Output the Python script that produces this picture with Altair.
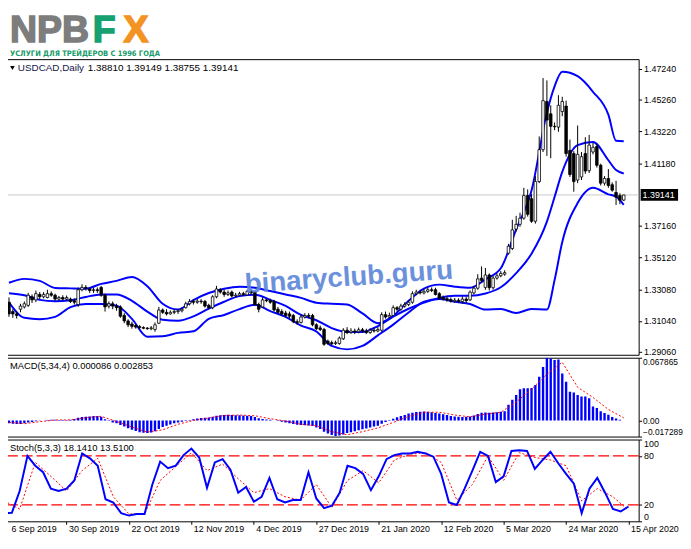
import altair as alt
import pandas as pd

# ---------------- data ----------------
date_labels = ["6 Sep 2019", "30 Sep 2019", "22 Oct 2019", "12 Nov 2019", "4 Dec 2019",
               "27 Dec 2019", "21 Jan 2020", "12 Feb 2020", "5 Mar 2020", "24 Mar 2020", "15 Apr 2020"]
date_bars = [0, 16, 32, 48, 64, 80, 96, 112, 128, 144, 160]

opens = [1.3225, 1.3165, 1.3150, 1.3180, 1.3195, 1.3205, 1.3260, 1.3240, 1.3275, 1.3260,
         1.3255, 1.3280, 1.3270, 1.3245, 1.3255, 1.3245, 1.3245, 1.3235, 1.3210, 1.3305,
         1.3320, 1.3310, 1.3300, 1.3305, 1.3320, 1.3270, 1.3200, 1.3215, 1.3200, 1.3195,
         1.3140, 1.3105, 1.3085, 1.3075, 1.3068, 1.3062, 1.3058, 1.3055, 1.3050, 1.3090,
         1.3175, 1.3160, 1.3150, 1.3160, 1.3165, 1.3170, 1.3190, 1.3215, 1.3230, 1.3225,
         1.3232, 1.3230, 1.3205, 1.3190, 1.3260, 1.3305, 1.3290, 1.3275, 1.3290, 1.3265,
         1.3270, 1.3280, 1.3272, 1.3295, 1.3290, 1.3210, 1.3195, 1.3240, 1.3235, 1.3230,
         1.3180, 1.3165, 1.3155, 1.3150, 1.3140, 1.3100, 1.3095, 1.3130, 1.3140, 1.3140,
         1.3080, 1.3060, 1.3050, 1.2975, 1.2965, 1.2960, 1.2960, 1.2990, 1.3045, 1.3030,
         1.3040, 1.3035, 1.3048, 1.3040, 1.3030, 1.3045, 1.3040, 1.3045, 1.3145, 1.3130,
         1.3140, 1.3190, 1.3180, 1.3200, 1.3210, 1.3225, 1.3280, 1.3290, 1.3285, 1.3295,
         1.3305, 1.3305, 1.3280, 1.3255, 1.3248, 1.3242, 1.3232, 1.3238, 1.3230, 1.3245,
         1.3240, 1.3285, 1.3315, 1.3380, 1.3320, 1.3400, 1.3318, 1.3380, 1.3395, 1.3405,
         1.3540, 1.3570, 1.3695, 1.3725, 1.3765, 1.3910, 1.3890, 1.3745, 1.4000, 1.4205,
         1.4515, 1.4435, 1.4355, 1.4350, 1.4450, 1.4485, 1.4200, 1.4180, 1.4010, 1.4030,
         1.4180, 1.4070, 1.4190, 1.4225, 1.4105, 1.3990, 1.4020, 1.3980, 1.3930, 1.3910,
         1.38810]
highs = [1.3256, 1.3180, 1.3165, 1.3215, 1.3230, 1.3285, 1.3275, 1.3300, 1.3290, 1.3290,
         1.3305, 1.3295, 1.3280, 1.3265, 1.3270, 1.3268, 1.3255, 1.3250, 1.3320, 1.3340,
         1.3335, 1.3320, 1.3318, 1.3320, 1.3330, 1.3280, 1.3230, 1.3230, 1.3215, 1.3205,
         1.3155, 1.3115, 1.3100, 1.3085, 1.3078, 1.3070, 1.3066, 1.3072, 1.3095, 1.3195,
         1.3185, 1.3180, 1.3172, 1.3180, 1.3182, 1.3190, 1.3228, 1.3245, 1.3245, 1.3245,
         1.3245, 1.3240, 1.3215, 1.3270, 1.3330, 1.3315, 1.3305, 1.3300, 1.3300, 1.3285,
         1.3292, 1.3292, 1.3305, 1.3305, 1.3295, 1.3222, 1.3255, 1.3250, 1.3248, 1.3240,
         1.3195, 1.3180, 1.3170, 1.3165, 1.3150, 1.3115, 1.3145, 1.3155, 1.3155, 1.3150,
         1.3090, 1.3075, 1.3060, 1.2985, 1.2978, 1.2978, 1.3005, 1.3058, 1.3065, 1.3058,
         1.3055, 1.3062, 1.3060, 1.3055, 1.3058, 1.3060, 1.3065, 1.3160, 1.3165, 1.3158,
         1.3205, 1.3200, 1.3215, 1.3225, 1.3240, 1.3295, 1.3305, 1.3305, 1.3310, 1.3320,
         1.3320, 1.3318, 1.3290, 1.3268, 1.3262, 1.3255, 1.3252, 1.3250, 1.3262, 1.3260,
         1.3300, 1.3330, 1.3405, 1.3455, 1.3445, 1.3410, 1.3395, 1.3410, 1.3425, 1.3430,
         1.3600, 1.3755, 1.3780, 1.3800, 1.3960, 1.3950, 1.3920, 1.4035, 1.4290, 1.4665,
         1.4650, 1.4490, 1.4380, 1.4555, 1.4545, 1.4520, 1.4270, 1.4195, 1.4360, 1.4190,
         1.4285, 1.4300, 1.4250, 1.4245, 1.4115, 1.4035, 1.4080, 1.3995, 1.4005, 1.3925,
         1.39149]
lows = [1.3131, 1.3125, 1.3120, 1.3160, 1.3185, 1.3195, 1.3220, 1.3225, 1.3245, 1.3250,
        1.3250, 1.3260, 1.3235, 1.3235, 1.3235, 1.3236, 1.3220, 1.3210, 1.3195, 1.3295,
        1.3300, 1.3285, 1.3285, 1.3285, 1.3260, 1.3165, 1.3185, 1.3180, 1.3170, 1.3125,
        1.3090, 1.3065, 1.3055, 1.3055, 1.3050, 1.3052, 1.3048, 1.3045, 1.3035, 1.3085,
        1.3150, 1.3140, 1.3145, 1.3148, 1.3150, 1.3160, 1.3185, 1.3205, 1.3210, 1.3215,
        1.3215, 1.3190, 1.3180, 1.3180, 1.3250, 1.3280, 1.3260, 1.3265, 1.3255, 1.3258,
        1.3262, 1.3265, 1.3265, 1.3275, 1.3200, 1.3160, 1.3190, 1.3225, 1.3215, 1.3165,
        1.3150, 1.3140, 1.3128, 1.3120, 1.3090, 1.3080, 1.3088, 1.3120, 1.3122, 1.3070,
        1.3045, 1.3040, 1.2945, 1.2950, 1.2948, 1.2950, 1.2952, 1.2982, 1.3020, 1.3022,
        1.3020, 1.3025, 1.3028, 1.3020, 1.3022, 1.3030, 1.3032, 1.3035, 1.3120, 1.3122,
        1.3135, 1.3165, 1.3170, 1.3190, 1.3200, 1.3215, 1.3270, 1.3275, 1.3275, 1.3285,
        1.3290, 1.3268, 1.3240, 1.3235, 1.3228, 1.3222, 1.3222, 1.3220, 1.3215, 1.3220,
        1.3232, 1.3275, 1.3305, 1.3350, 1.3305, 1.3300, 1.3305, 1.3370, 1.3385, 1.3395,
        1.3530, 1.3560, 1.3680, 1.3710, 1.3755, 1.3775, 1.3735, 1.3730, 1.3990, 1.4190,
        1.4165, 1.4150, 1.4330, 1.4320, 1.4420, 1.4160, 1.4030, 1.3935, 1.3990, 1.4010,
        1.4050, 1.4055, 1.4175, 1.4090, 1.3975, 1.3975, 1.3960, 1.3935, 1.3850, 1.3855,
        1.38755]
closes = [1.3150, 1.3150, 1.3140, 1.3200, 1.3215, 1.3270, 1.3240, 1.3280, 1.3260, 1.3275,
          1.3280, 1.3270, 1.3245, 1.3255, 1.3245, 1.3255, 1.3230, 1.3225, 1.3305, 1.3320,
          1.3315, 1.3300, 1.3305, 1.3300, 1.3270, 1.3195, 1.3215, 1.3200, 1.3190, 1.3135,
          1.3105, 1.3080, 1.3070, 1.3065, 1.3062, 1.3058, 1.3055, 1.3060, 1.3080, 1.3175,
          1.3160, 1.3150, 1.3160, 1.3165, 1.3170, 1.3180, 1.3215, 1.3230, 1.3225, 1.3232,
          1.3228, 1.3200, 1.3190, 1.3260, 1.3310, 1.3290, 1.3275, 1.3285, 1.3265, 1.3270,
          1.3280, 1.3275, 1.3295, 1.3285, 1.3210, 1.3180, 1.3240, 1.3235, 1.3225, 1.3175,
          1.3160, 1.3150, 1.3140, 1.3135, 1.3100, 1.3095, 1.3130, 1.3140, 1.3135, 1.3080,
          1.3055, 1.3050, 1.2955, 1.2960, 1.2958, 1.2965, 1.2995, 1.3045, 1.3030, 1.3040,
          1.3035, 1.3048, 1.3040, 1.3030, 1.3045, 1.3040, 1.3050, 1.3145, 1.3130, 1.3140,
          1.3190, 1.3180, 1.3200, 1.3210, 1.3225, 1.3280, 1.3290, 1.3285, 1.3295, 1.3305,
          1.3300, 1.3275, 1.3250, 1.3245, 1.3240, 1.3232, 1.3238, 1.3230, 1.3245, 1.3235,
          1.3290, 1.3315, 1.3375, 1.3365, 1.3400, 1.3318, 1.3380, 1.3395, 1.3410, 1.3415,
          1.3585, 1.3690, 1.3725, 1.3765, 1.3910, 1.3790, 1.3745, 1.4000, 1.4205, 1.4520,
          1.4395, 1.4355, 1.4352, 1.4490, 1.4515, 1.4180, 1.4045, 1.4000, 1.4175, 1.4160,
          1.4068, 1.4235, 1.4220, 1.4105, 1.3990, 1.4020, 1.3975, 1.3945, 1.3900, 1.3880,
          1.39141]

band_bars = list(range(0, 141, 4)) + [142, 144, 148, 152, 156, 158, 160]
bb_upper = [1.3350, 1.3375, 1.3362, 1.3317, 1.3314, 1.3312, 1.3343, 1.3362, 1.3387, 1.3328,
            1.3215, 1.3178, 1.3239, 1.3284, 1.3312, 1.3325, 1.3318, 1.3297, 1.3275, 1.3253,
            1.3222, 1.3215, 1.3210, 1.3153, 1.3090, 1.3137, 1.3234, 1.3312, 1.3338, 1.3325,
            1.3318, 1.3372, 1.3443, 1.3693, 1.3943, 1.4443,
            1.4612, 1.4705, 1.4677, 1.4577, 1.4430, 1.4262, 1.4259]
bb_mid = [1.3283, 1.3270, 1.3240, 1.3231, 1.3237, 1.3259, 1.3275, 1.3275, 1.3234, 1.3165,
          1.3112, 1.3106, 1.3134, 1.3184, 1.3228, 1.3264, 1.3273, 1.3240, 1.3201, 1.3143,
          1.3109, 1.3059, 1.3033, 1.3033, 1.3072, 1.3132, 1.3183, 1.3222, 1.3253, 1.3266,
          1.3266, 1.3281, 1.3321, 1.3412, 1.3537, 1.3743,
          1.3901, 1.4062, 1.4234, 1.4255, 1.4137, 1.4074, 1.4052]
bb_lower = [1.3225, 1.3125, 1.3116, 1.3131, 1.3193, 1.3214, 1.3214, 1.3203, 1.3118, 1.3003,
            1.3006, 1.3028, 1.3038, 1.3118, 1.3143, 1.3181, 1.3209, 1.3168, 1.3131, 1.3075,
            1.3037, 1.2944, 1.2922, 1.2944, 1.3012, 1.3081, 1.3159, 1.3228, 1.3245, 1.3228,
            1.3214, 1.3178, 1.3181, 1.3156, 1.3181, 1.3178,
            1.3367, 1.3612, 1.3862, 1.3960, 1.3918, 1.3903, 1.3851]

macd_hist = [-0.0030, -0.0035, -0.0038, -0.0036, -0.0030, -0.0022, -0.0015,
             -0.0008, -0.0003, 0.0002, 0.0006, 0.0008, 0.0008, 0.0006, 0.0005, 0.0006, 0.0010,
             0.0018, 0.0030, 0.0038, 0.0042, 0.0045, 0.0048, 0.0050, 0.0040,
             0.0015, -0.0005, -0.0020,
             -0.0030, -0.0048, -0.0065, -0.0082, -0.0098, -0.0112, -0.0125, -0.0132, -0.0135,
             -0.0130, -0.0115, -0.0090,
             -0.0070, -0.0055, -0.0042, -0.0030, -0.0020, -0.0012, -0.0005, 0.0005,
             0.0015, 0.0022, 0.0028, 0.0030, 0.0032, 0.0040, 0.0052, 0.0058, 0.0060, 0.0062,
             0.0060, 0.0058, 0.0057, 0.0055, 0.0052, 0.0048, 0.0038,
             0.0025, 0.0018, 0.0012, 0.0008, 0.0002, -0.0005, -0.0012,
             -0.0020, -0.0028, -0.0038, -0.0045, -0.0048, -0.0050, -0.0052, -0.0060, -0.0075,
             -0.0090, -0.0120, -0.0140, -0.0155, -0.0168, -0.0160, -0.0150,
             -0.0135, -0.0125, -0.0115, -0.0105, -0.0095, -0.0085, -0.0075, -0.0065, -0.0055,
             -0.0035, -0.0015,
             0.0005, 0.0020, 0.0035, 0.0048, 0.0060, 0.0075, 0.0085, 0.0092, 0.0096, 0.0098,
             0.0096, 0.0090, 0.0082, 0.0075, 0.0068, 0.0060, 0.0050, 0.0045, 0.0040, 0.0038,
             0.0040, 0.0045, 0.0055, 0.0070, 0.0085, 0.0088, 0.0085, 0.0088, 0.0090, 0.0095,
             0.0100,
             0.0170, 0.0224, 0.0277, 0.0337, 0.0348, 0.0350, 0.0352, 0.0383, 0.0472, 0.0579,
             0.0679, 0.0670, 0.0655, 0.0660,
             0.0508, 0.0419, 0.0312, 0.0302, 0.0277, 0.0259, 0.0259, 0.0241, 0.0153, 0.0135,
             0.0100, 0.0082, 0.0064, 0.0039, 0.0021, 0.0010, 0.000086]
sig_bars = list(range(0, 161, 4))
macd_signal = [-0.0020, -0.0034, -0.0012, 0.0006, 0.0007, 0.0032, 0.0046, -0.0010, -0.0070,
               -0.0125, -0.0100, -0.0040, 0.0002, 0.0028, 0.0055, 0.0060, 0.0052, 0.0020,
               -0.0005, -0.0040, -0.0056, -0.0120, -0.0153, -0.0120, -0.0080, -0.0020, 0.0045,
               0.0090, 0.0090, 0.0060, 0.0040, 0.0070, 0.0090, 0.0200, 0.0340, 0.0500, 0.0630,
               0.0360, 0.0250, 0.0120, 0.002853]

stoch_bars = list(range(0, 161, 2))
stoch_k = [10, 10.5, 37, 80, 68, 60, 40, 37, 40, 50, 83, 77, 68, 27, 23, 10, 7, 9, 9, 45,
           73, 65, 68, 81, 89, 78, 41, 72, 76, 63, 35, 42, 24, 30, 53, 27, 23, 26, 26, 60,
           28, 16, 19, 35, 68, 65, 58, 38, 55, 76, 81, 83, 83, 85, 83, 79, 58, 23, 20, 40,
           62, 85, 80, 48, 55, 86, 87, 86, 64, 75, 85, 71, 58, 46, 10, 40, 53, 35, 15, 12,
           18.141]
stoch_d = [25, 15, 72, 55, 37, 62, 77, 30, 9, 9, 50, 67, 84, 62, 70, 52, 35, 40, 30, 26,
           45, 17, 50, 62, 47, 75, 82, 84, 72, 26, 45, 80, 50, 84, 78, 75, 68, 25, 40, 30,
           13.51]

price_ticks = [1.47240, 1.45260, 1.43220, 1.41180, 1.37160, 1.35120, 1.33080, 1.31040, 1.29060]
last_price = [1.39141]

# ---------------- frames ----------------
n = len(closes)
candles = pd.DataFrame({"i": list(range(n)), "open": opens, "high": highs,
                        "low": lows, "close": closes})
candles["dir"] = ["up" if c >= o else "down" for o, c in zip(opens, closes)]
nb = len(band_bars)
bands = pd.DataFrame({
    "i": band_bars * 3,
    "v": bb_upper + bb_mid + bb_lower,
    "band": ["upper"] * nb + ["mid"] * nb + ["lower"] * nb,
})
macd_df = pd.DataFrame({"i": list(range(n)), "h": macd_hist})
sig_df = pd.DataFrame({"i": sig_bars, "s": macd_signal})
k_df = pd.DataFrame({"i": stoch_bars, "k": stoch_k})
d_df = pd.DataFrame({"i": sig_bars, "d": stoch_d})
lvl_df = pd.DataFrame({"lv": [20, 80]})
lp_df = pd.DataFrame({"p": last_price})
one = pd.DataFrame({"a": [0]})

W = 644
H_MAIN, H_MACD, H_STOCH = 300, 80, 83
FONT = "Liberation Sans"
xs = alt.Scale(domain=[0, 162.6], nice=False, zero=False)
ys = alt.Scale(domain=[1.28873, 1.47865], nice=False, zero=False)
ms = alt.Scale(domain=[-0.017289, 0.067865], nice=False, zero=False)
ss = alt.Scale(domain=[0, 100], nice=False, zero=False)

def rax(pad=2, size=9, **kw):
    return alt.Axis(orient="right", title=None, grid=False, domain=False, tickSize=3,
                    tickColor="black", labelPadding=pad, labelFontSize=size, labelColor="black",
                    labelFont=FONT, **kw)

yax = rax(values=price_ticks, format=".5f")
X = alt.X("i:Q", scale=xs, axis=None)

def txt(s, x, y, size, color, font=FONT, weight="normal", align="left", baseline="middle", **kw):
    return alt.Chart(one).mark_text(text=s, align=align, baseline=baseline, fontSize=size,
                                    font=font, fontWeight=weight, color=color, **kw).encode(
        x=alt.value(x), y=alt.value(y))

# ---------------- logo ----------------
SUB_FONT = "Liberation Sans Narrow, DejaVu Sans Condensed, Liberation Sans"
logo = alt.layer(
    txt("NPB", 6, 0, 38, "#7d7d7d", FONT, "bold", "left", "top", stroke="#7d7d7d", strokeWidth=1.5),
    txt("F", 90, 0, 38, "#17a070", FONT, "bold", "left", "top", stroke="#17a070", strokeWidth=1.5),
    txt("X", 134, 0, 38, "#f39323", FONT, "bold", "center", "top", stroke="#f39323", strokeWidth=1.5),
    txt("УСЛУГИ ДЛЯ ТРЕЙДЕРОВ С 1996 ГОДА", 6, 43.5, 7.6, "#159a68", SUB_FONT, "bold",
        "left", "alphabetic"),
).properties(width=W, height=44, view=alt.ViewBackground(stroke="transparent"))

# ---------------- main panel ----------------
pline = alt.Chart(lp_df).mark_rule(color="#c8c8c8", strokeWidth=1).encode(
    y=alt.Y("p:Q", scale=ys, axis=yax))
band_lines = alt.Chart(bands).mark_line(color="#0000ff", strokeWidth=2, clip=True,
                                        interpolate="monotone").encode(
    x=X, y=alt.Y("v:Q", scale=ys, axis=yax), detail="band:N")
wicks = alt.Chart(candles).mark_rule(color="black", strokeWidth=1, clip=True).encode(
    x=X, y=alt.Y("low:Q", scale=ys, axis=yax), y2="high:Q")
bodies = alt.Chart(candles).mark_bar(size=2.6, stroke="black", strokeWidth=0.8, clip=True).encode(
    x=X, y=alt.Y("open:Q", scale=ys, axis=yax), y2="close:Q",
    fill=alt.Fill("dir:N", scale=alt.Scale(domain=["up", "down"], range=["white", "black"]),
                  legend=None))
watermark = txt("binaryclub.guru", 350, 222, 28, "#5b86d9", FONT, "bold", "center", "middle",
                angle=356, opacity=0.9)
tri = alt.Chart(one).mark_point(shape="triangle-down", filled=True, size=22, color="black",
                                opacity=1).encode(x=alt.value(8.5), y=alt.value(9))
head1 = txt("USDCAD,Daily", 14, 9.5, 10, "#15154a")
head2 = txt("1.38810 1.39149 1.38755 1.39141", 85, 9.5, 10, "black")
pbox = alt.Chart(lp_df).transform_calculate(
    p1="datum.p + 0.0038", p2="datum.p - 0.0038").mark_rect(color="black").encode(
    x=alt.value(W + 2), x2=alt.value(W + 40), y=alt.Y("p1:Q", scale=ys, axis=yax), y2="p2:Q")
ptext = alt.Chart(lp_df).mark_text(align="left", baseline="middle", color="white",
                                   fontSize=9, font=FONT).encode(
    x=alt.value(W + 4), y=alt.Y("p:Q", scale=ys, axis=yax), text=alt.Text("p:Q", format=".5f"))

main = alt.layer(pline, band_lines, wicks, bodies, watermark, tri, head1, head2, pbox, ptext
                 ).properties(width=W, height=H_MAIN)

# ---------------- MACD panel ----------------
max_ = rax(pad=1, size=8.5, values=[0.067865, 0, -0.017289], labelFlush=True,
           labelExpr="datum.value == 0 ? '0.00' : format(datum.value, '.6f')")
hist = alt.Chart(macd_df).mark_bar(size=2.4, color="#0000ff", clip=True).encode(
    x=X, y=alt.Y("h:Q", scale=ms, axis=max_), y2=alt.datum(0))
sig = alt.Chart(sig_df).mark_line(color="#ff0000", strokeWidth=1, strokeDash=[2, 2],
                                  clip=True).encode(
    x=X, y=alt.Y("s:Q", scale=ms, axis=max_))
macd_lbl = txt("MACD(5,34,4) 0.000086 0.002853", 6, 8.5, 9.5, "black")
macd = alt.layer(hist, sig, macd_lbl).properties(width=W, height=H_MACD)

# ---------------- Stochastic panel ----------------
lab_js = "[" + ",".join("'%s'" % d for d in date_labels) + "]"
xax = alt.Axis(values=date_bars, labelExpr=lab_js + "[round(datum.value / 16)]",
               labelAlign="left",
               labelOffset={"condition": {"test": "datum.value == 0", "value": 7}, "value": 2},
               tickSize=3, tickColor="black", domain=False,
               grid=False, labelFlush=False, labelOverlap=False, labelFontSize=9,
               labelColor="black", labelFont=FONT, labelPadding=0, title=None)
XS = alt.X("i:Q", scale=xs, axis=xax)
sax = rax(values=[0, 20, 80, 100], labelFlush=True)
levels = alt.Chart(lvl_df).mark_rule(color="#ff0000", strokeWidth=1.2, strokeDash=[11, 4]).encode(
    y=alt.Y("lv:Q", scale=ss, axis=sax))
kline = alt.Chart(k_df).mark_line(color="#0000ff", strokeWidth=2, clip=True).encode(
    x=XS, y=alt.Y("k:Q", scale=ss, axis=sax))
dline = alt.Chart(d_df).mark_line(color="#ff0000", strokeWidth=1, strokeDash=[2, 2],
                                  clip=True).encode(
    x=XS, y=alt.Y("d:Q", scale=ss, axis=sax))
st_lbl = txt("Stoch(5,3,3) 18.1410 13.5100", 6, 9, 9.5, "black")
stoch = alt.layer(levels, dline, kline, st_lbl).properties(width=W, height=H_STOCH)

chart = alt.vconcat(logo, main, macd, stoch, spacing=3, bounds="flush",
                    padding={"left": -6, "top": 0, "right": 0, "bottom": -1},
                    background="white").configure_view(stroke="black", strokeWidth=1)

chart.save("out.html", embed_options={"renderer": "svg", "actions": False})
